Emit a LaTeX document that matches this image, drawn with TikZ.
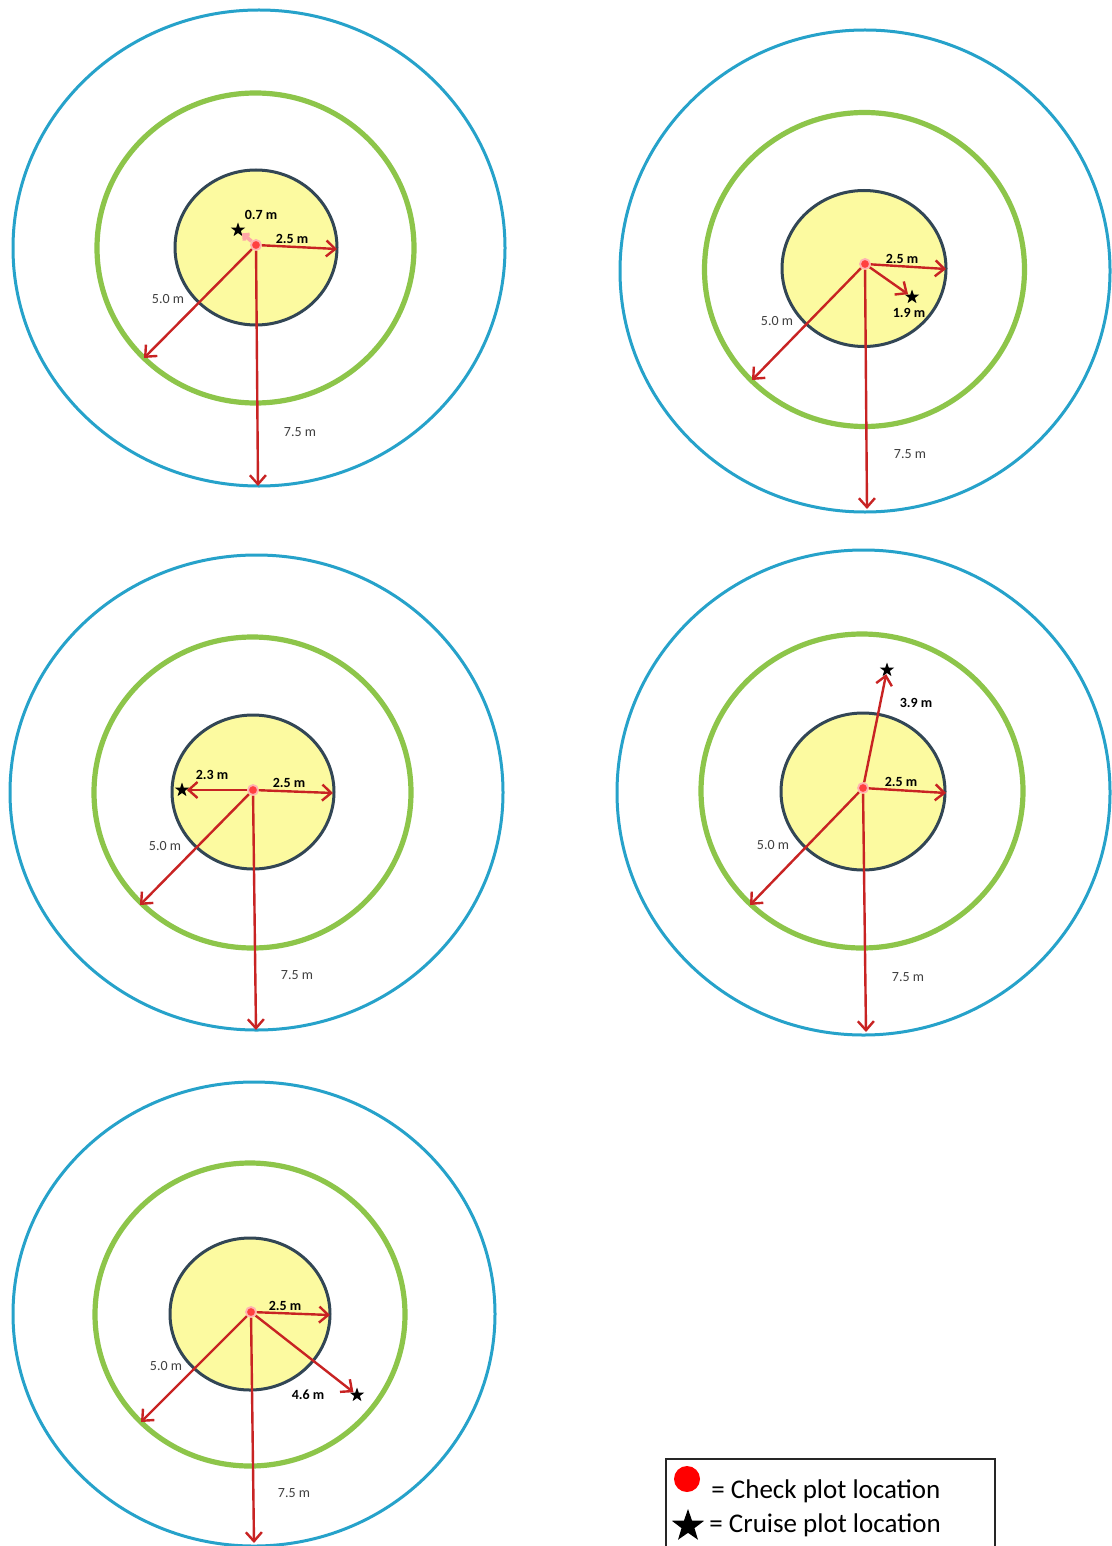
\documentclass[tikz,border=0pt]{standalone}
\usepackage{fontspec}
\setmainfont{Carlito}
\usetikzlibrary{arrows.meta,shapes.geometric}

\definecolor{ringblue}{RGB}{38,162,202}
\definecolor{ringgreen}{RGB}{141,197,74}
\definecolor{plotyellow}{RGB}{252,250,160}
\definecolor{plotedge}{RGB}{50,70,85}
\definecolor{arrowred}{RGB}{200,35,35}

\begin{document}
\begin{tikzpicture}[
  x=0.5pt, y=-0.5pt,
  outerring/.style={draw=ringblue, line width=1.5pt},
  midring/.style={draw=ringgreen, line width=2.6pt},
  subplot/.style={draw=plotedge, fill=plotyellow, line width=1.5pt},
  radarrow/.style={draw=arrowred, line width=1.2pt, -{Straight Barb[length=4.5pt,width=8pt]}},
  nudge/.style={draw=red!35, line width=1.8pt, -{Straight Barb[length=2pt,width=4pt]}},
  checkpt/.style={circle, fill=red!75, draw=red!30, line width=0.9pt, minimum size=5pt, inner sep=0pt},
  cruise/.style={star, star points=5, star point ratio=2.5, fill=black, inner sep=0pt, minimum size=7.5pt},
  dist/.style={font=\fontsize{7}{8}\selectfont, text=black!75, inner sep=0pt},
  bdist/.style={font=\fontsize{7}{8}\selectfont\bfseries, inner sep=0pt}
]
  \useasboundingbox[fill=white] (0,0) rectangle (1112,1546);

  % plot 1
  \draw[outerring] (259,248) ellipse [x radius=246, y radius=238];
  \draw[midring] (255.5,248) ellipse [x radius=158.5, y radius=155];
  \draw[subplot] (256,247.5) ellipse [x radius=81, y radius=77.5];
  \node[checkpt] (p1) at (256,245) {};
  \node[cruise] (s1) at (238,230) {};
  \coordinate (a1) at (337,249);
  \coordinate (b1) at (144,358);
  \coordinate (d1) at (258,486);
  \draw[radarrow] (p1) -- (a1);
  \draw[radarrow] (p1) -- (b1);
  \draw[radarrow] (p1) -- (d1);
  \draw[nudge] (p1) -- (s1);
  \node[bdist] (n1) at (261,215) {0.7 m};
  \node[bdist] (r1) at (292,239) {2.5 m};
  \node[dist] (m1) at (168,299) {5.0 m};
  \node[dist] (o1) at (300,432) {7.5 m};

  % plot 2
  \draw[outerring] (865,271) ellipse [x radius=245, y radius=241];
  \draw[midring] (864.5,269.5) ellipse [x radius=160, y radius=157];
  \draw[subplot] (864,268.5) ellipse [x radius=82, y radius=78];
  \node[checkpt] (p2) at (865,264) {};
  \node[cruise] (s2) at (912,297) {};
  \coordinate (a2) at (946,269);
  \coordinate (b2) at (752,380);
  \coordinate (d2) at (867,509);
  \draw[radarrow] (p2) -- (a2);
  \draw[radarrow] (p2) -- (b2);
  \draw[radarrow] (p2) -- (d2);
  \draw[radarrow] (p2) -- (s2);
  \node[bdist] (n2) at (909,313) {1.9 m};
  \node[bdist] (r2) at (902,259) {2.5 m};
  \node[dist] (m2) at (777,321) {5.0 m};
  \node[dist] (o2) at (910,454) {7.5 m};

  % plot 3
  \draw[outerring] (256.5,792.5) ellipse [x radius=246.5, y radius=237.5];
  \draw[midring] (252.5,792.5) ellipse [x radius=158.5, y radius=155.5];
  \draw[subplot] (253,792) ellipse [x radius=81, y radius=77];
  \node[checkpt] (p3) at (253,790) {};
  \node[cruise] (s3) at (182,790) {};
  \coordinate (a3) at (333,793);
  \coordinate (b3) at (140,905);
  \coordinate (d3) at (256,1030);
  \draw[radarrow] (p3) -- (a3);
  \draw[radarrow] (p3) -- (b3);
  \draw[radarrow] (p3) -- (d3);
  \draw[radarrow] (p3) -- (s3);
  \node[bdist] (n3) at (212,775) {2.3 m};
  \node[bdist] (r3) at (289,783) {2.5 m};
  \node[dist] (m3) at (165,846) {5.0 m};
  \node[dist] (o3) at (297,975) {7.5 m};

  % plot 4
  \draw[outerring] (863.5,792.5) ellipse [x radius=246.5, y radius=242.5];
  \draw[midring] (862,791) ellipse [x radius=161, y radius=157];
  \draw[subplot] (863,791.5) ellipse [x radius=82, y radius=78.5];
  \node[checkpt] (p4) at (863,788) {};
  \node[cruise] (s4) at (887,670) {};
  \coordinate (a4) at (946,793);
  \coordinate (b4) at (750,905);
  \coordinate (d4) at (866,1032);
  \draw[radarrow] (p4) -- (a4);
  \draw[radarrow] (p4) -- (b4);
  \draw[radarrow] (p4) -- (d4);
  \draw[radarrow] (p4) -- (s4);
  \node[bdist] (n4) at (916,703) {3.9 m};
  \node[bdist] (r4) at (901,782) {2.5 m};
  \node[dist] (m4) at (773,845) {5.0 m};
  \node[dist] (o4) at (908,977) {7.5 m};

  % plot 5
  \draw[outerring] (254,1314) ellipse [x radius=241, y radius=232];
  \draw[midring] (250,1314.5) ellipse [x radius=155, y radius=151.5];
  \draw[subplot] (250,1314) ellipse [x radius=80, y radius=76];
  \node[checkpt] (p5) at (251,1312) {};
  \node[cruise] (s5) at (357,1395) {};
  \coordinate (a5) at (330,1315);
  \coordinate (b5) at (141,1422);
  \coordinate (d5) at (254,1543);
  \draw[radarrow] (p5) -- (a5);
  \draw[radarrow] (p5) -- (b5);
  \draw[radarrow] (p5) -- (d5);
  \draw[radarrow] (p5) -- (s5);
  \node[bdist] (n5) at (308,1395) {4.6 m};
  \node[bdist] (r5) at (285,1306) {2.5 m};
  \node[dist] (m5) at (166,1366) {5.0 m};
  \node[dist] (o5) at (294,1493) {7.5 m};

  % legend
  \draw[line width=0.8pt, black!85] (666,1459) rectangle (995,1560);
  \node[circle, fill=red, inner sep=0pt, minimum size=13pt] (ld) at (687,1479) {};
  \node[cruise, minimum size=17pt] (ls) at (688,1526) {};
  \node[anchor=west, inner sep=0pt, font=\fontsize{13.5}{16}\selectfont] (lt1) at (711,1491) {= Check plot location};
  \node[anchor=west, inner sep=0pt, font=\fontsize{13.5}{16}\selectfont] (lt2) at (709,1525) {= Cruise plot location};
\end{tikzpicture}
\end{document}
